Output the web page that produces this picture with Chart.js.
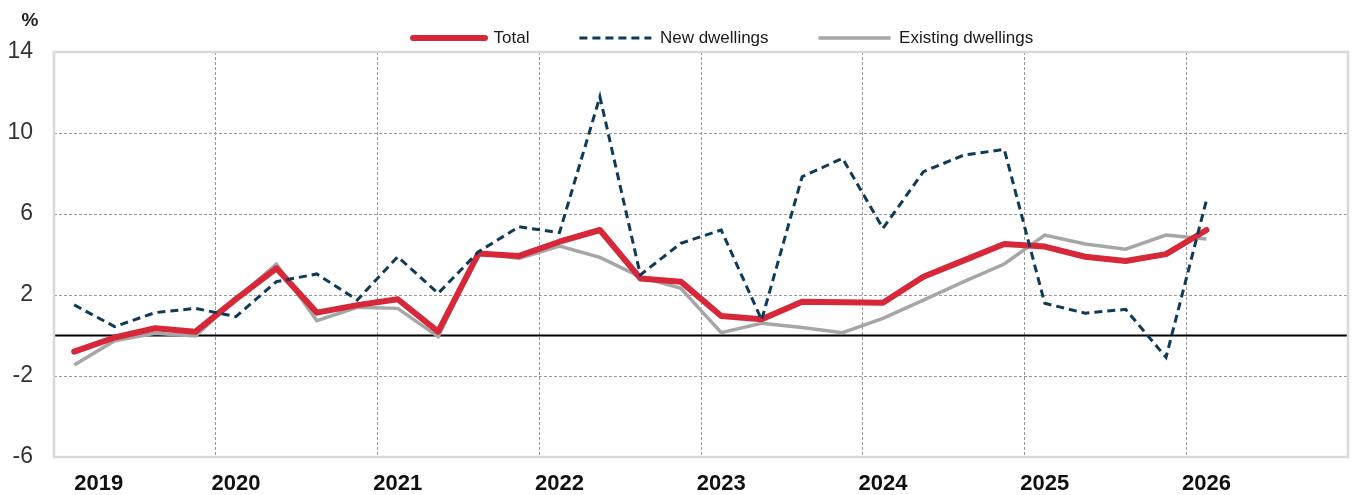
<!DOCTYPE html>
<html>
<head>
<meta charset="utf-8">
<script src="https://cdn.jsdelivr.net/npm/chart.js@4"></script>
<style>
  body { margin: 0; background: #fff; }
  .wrap { width: 1352px; height: 495px; position: relative; }
</style>
</head>
<body>
<div class="wrap"><canvas id="chart"></canvas></div>
<script>
const years = ['2019', '2020', '2021', '2022', '2023', '2024', '2025', '2026'];
const quarters = ['Q1', 'Q2', 'Q3', 'Q4'];

// quarterly growth, %, 2019 Q1 to 2026 Q1
const total = [-0.8, -0.1, 0.36, 0.19, 1.8, 3.32, 1.13, 1.5, 1.79, 0.19,
  4.05, 3.93, 4.63, 5.21, 2.82, 2.66, 0.96, 0.8, 1.67, 1.64,
  1.62, 2.9, 3.71, 4.52, 4.39, 3.89, 3.68, 4.02, 5.21];
const newDwellings = [1.51, 0.44, 1.13, 1.34, 0.93, 2.66, 3.04, 1.75, 3.89, 2.08,
  4.14, 5.37, 5.08, 11.79, 2.99, 4.55, 5.21, 0.77, 7.84, 8.75,
  5.29, 8.09, 8.91, 9.19, 1.59, 1.1, 1.29, -1.08, 6.69];
const existingDwellings = [-1.46, -0.26, 0.11, -0.02, 1.8, 3.53, 0.73, 1.39, 1.34, -0.06,
  4.09, 3.81, 4.42, 3.86, 2.9, 2.33, 0.14, 0.6, 0.39, 0.14,
  0.85, 1.75, 2.66, 3.53, 4.96, 4.52, 4.26, 4.96, 4.77];

const yTicks = [-6, -2, 2, 6, 10, 14];

const labels = years.flatMap(y => quarters.map(q => y + ' ' + q));

const font = "'Liberation Sans', Arial, sans-serif";

const extras = {
  id: 'extras',
  afterLayout(chart) {
    // legend sits a bit right of centre in the original
    const lg = chart.legend;
    const pad = lg.options.labels.padding;
    const fs = lg.options.labels.font.size;
    const startX = (lg.left + pad + lg.right - lg.lineWidths[0]) / 2;
    const dx = 413 - startX;
    lg.left += dx;
    lg.right += dx;
    lg.top = 38 - fs / 2 - pad;
  },
  beforeDatasetsDraw(chart) {
    const { ctx, chartArea: a, scales } = chart;
    const y0 = scales.y.getPixelForValue(0);
    ctx.save();
    ctx.strokeStyle = '#000';
    ctx.lineWidth = 2;
    ctx.beginPath();
    ctx.moveTo(a.left, y0);
    ctx.lineTo(a.right, y0);
    ctx.stroke();
    ctx.strokeStyle = '#d9d9d9';
    ctx.lineWidth = 2.5;
    ctx.strokeRect(a.left, a.top, a.right - a.left, a.bottom - a.top);
    ctx.restore();
  },
  afterDraw(chart) {
    const { ctx } = chart;
    ctx.save();
    ctx.font = 'bold 19px ' + font;
    ctx.fillStyle = '#222';
    ctx.textAlign = 'center';
    ctx.textBaseline = 'middle';
    ctx.fillText('%', 30, 21);
    ctx.restore();
  }
};

new Chart(document.getElementById('chart'), {
  type: 'line',
  data: {
    labels: labels,
    datasets: [
      {
        label: 'Total',
        data: total,
        borderColor: '#d7283a',
        borderWidth: 6,
        borderCapStyle: 'round',
        borderJoinStyle: 'round',
        order: 2
      },
      {
        label: 'New dwellings',
        data: newDwellings,
        borderColor: '#0f3a5a',
        borderWidth: 3,
        borderDash: [8, 5],
        order: 1
      },
      {
        label: 'Existing dwellings',
        data: existingDwellings,
        borderColor: '#a6a6a6',
        borderWidth: 3.5,
        order: 3
      }
    ]
  },
  options: {
    responsive: true,
    maintainAspectRatio: false,
    animation: false,
    elements: { point: { radius: 0 }, line: { tension: 0 } },
    layout: { padding: { left: 0, right: 4, top: 0, bottom: 0 } },
    plugins: {
      tooltip: { enabled: false },
      legend: {
        position: 'top',
        maxHeight: 52,
        labels: {
          usePointStyle: true,
          pointStyle: 'line',
          pointStyleWidth: 72,
          padding: 50,
          color: '#1a1a1a',
          font: { family: font, size: 17 },
          sort: (a, b) => a.datasetIndex - b.datasetIndex,
          generateLabels: chart => {
            const items = Chart.defaults.plugins.legend.labels.generateLabels(chart);
            return items.map(item => {
              const ds = chart.data.datasets[item.datasetIndex];
              item.lineDash = ds.borderDash || [];
              item.lineCap = ds.borderCapStyle || 'butt';
              item.lineWidth = ds.borderWidth;
              return item;
            });
          }
        }
      }
    },
    scales: {
      x: {
        offset: true,
        afterFit: scale => { scale.height = 38; },
        grid: {
          offset: true,
          drawTicks: false,
          color: ctx => (ctx.index % 4 === 0 ? '#9a9a9a' : 'rgba(0,0,0,0)'),
          lineWidth: 1
        },
        border: { display: false, dash: [3, 2] },
        ticks: {
          autoSkip: false,
          maxRotation: 0,
          padding: 16,
          color: '#111',
          font: { family: font, size: 22, weight: 'bold', lineHeight: 1 },
          callback: function (value, index) {
            const lab = this.getLabelForValue(value);
            if (!lab.endsWith('Q1')) return '';
            // first year label is pushed right in the original, away from the axis
            return index === 0 ? '\u2007\u2007\u2007\u2007' + lab.slice(0, 4) : lab.slice(0, 4);
          }
        }
      },
      y: {
        min: -6,
        max: 14,
        afterFit: scale => { scale.width = 54; },
        afterBuildTicks: scale => { scale.ticks = yTicks.map(v => ({ value: v })); },
        grid: { drawTicks: false, color: '#9a9a9a', lineWidth: 1 },
        border: { display: false, dash: [3, 2] },
        ticks: {
          padding: 21,
          color: '#333',
          font: { family: font, size: 23 }
        }
      }
    }
  },
  plugins: [extras]
});
</script>
</body>
</html>
